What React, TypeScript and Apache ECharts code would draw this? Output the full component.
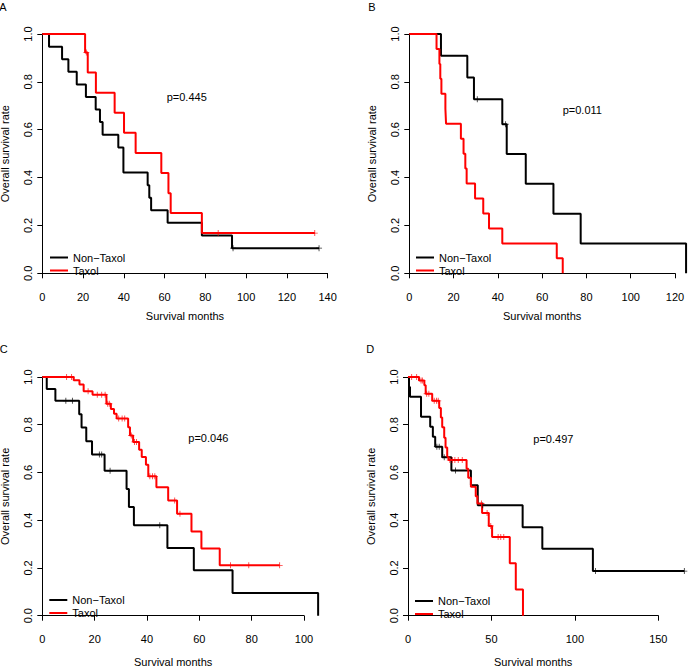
import React, { useEffect, useRef } from "react";
import * as echarts from "echarts";

const NON = "Non\u2212Taxol";
const TAX = "Taxol";

// ---------- Panel A ----------
const aNonTimes = [3.3, 9.7, 12.8, 16.9, 21.4, 26.2, 28.3, 29.6, 37.3, 39.8, 51.7, 52.5, 53.4, 61.5, 78.3, 93.1];
const aNonSurv = [0.947, 0.895, 0.842, 0.789, 0.737, 0.684, 0.632, 0.579, 0.526, 0.421, 0.368, 0.316, 0.263, 0.211, 0.158, 0.105];
const aNonCensor = [93.6, 135.8];
const aTaxTimes = [21.0, 22.3, 26.3, 35.5, 40.1, 45.8, 58.4, 61.9, 63.0, 78.3];
const aTaxSurv = [0.923, 0.839, 0.755, 0.671, 0.587, 0.503, 0.419, 0.335, 0.252, 0.168];
const aTaxCensor = [21.6, 86.3, 133.7];

// ---------- Panel B ----------
const bNonTimes = [14.3, 26.2, 29.2, 42.0, 44.0, 52.6, 65.1, 77.4, 125.0];
const bNonSurv = [0.909, 0.818, 0.727, 0.623, 0.499, 0.374, 0.249, 0.125, 0.0];
const bNonCensor = [30.7, 43.5];
const bTaxTimes = [12.3, 13.6, 14.0, 14.5, 16.3, 16.6, 23.3, 24.5, 25.3, 25.9, 29.7, 33.4, 36.0, 42.0, 66.6, 69.3];
const bTaxSurv = [0.9375, 0.875, 0.8125, 0.75, 0.6875, 0.625, 0.5625, 0.5, 0.4375, 0.375, 0.3125, 0.25, 0.1875, 0.125, 0.0625, 0.0];
const bTaxCensor: number[] = [];

// ---------- Panel C ----------
const cNonTimes = [1.7, 5.0, 14.1, 15.0, 16.8, 19.0, 23.8, 32.2, 33.1, 35.0, 47.8, 57.9, 72.7, 105.4];
const cNonSurv = [0.95, 0.9, 0.844, 0.788, 0.731, 0.675, 0.607, 0.531, 0.455, 0.379, 0.284, 0.19, 0.095, 0.0];
const cNonCensor = [9.0, 11.5, 21.8, 22.7, 25.9, 44.9];
const cTaxTimes = [12.0, 14.2, 15.8, 19.2, 24.5, 26.2, 27.4, 28.4, 32.8, 33.5, 34.7, 37.0, 38.0, 39.6, 40.5, 43.6, 48.1, 51.5, 57.0, 60.8, 67.8];
const cTaxSurv = [0.986, 0.969, 0.94, 0.926, 0.888, 0.866, 0.846, 0.826, 0.79, 0.755, 0.728, 0.695, 0.665, 0.632, 0.584, 0.538, 0.483, 0.427, 0.353, 0.282, 0.211];
const cTaxCensor = [9.3, 11.2, 17.5, 21.0, 22.7, 24.0, 25.0, 25.6, 29.2, 30.5, 31.5, 34.0, 35.2, 36.0, 41.1, 42.1, 43.0, 50.6, 52.6, 71.9, 78.9, 90.7];

// ---------- Panel D ----------
const dNonTimes = [0.6, 1.2, 7.8, 13.3, 14.9, 16.3, 20.5, 26.0, 37.7, 41.8, 68.7, 80.5, 110.8];
const dNonSurv = [0.958, 0.917, 0.833, 0.792, 0.75, 0.708, 0.664, 0.608, 0.547, 0.463, 0.371, 0.28, 0.187];
const dNonCensor = [17.3, 18.7, 21.7, 28.5, 44.8, 112.4, 165.6];
const dTaxTimes = [6.6, 9.8, 10.6, 14.5, 18.7, 19.7, 20.5, 21.7, 22.5, 23.5, 24.3, 35.1, 36.1, 37.7, 40.6, 41.6, 44.4, 48.4, 50.4, 61.0, 64.6, 68.9];
const dTaxSurv = [0.985, 0.965, 0.93, 0.9, 0.87, 0.83, 0.79, 0.745, 0.705, 0.665, 0.652, 0.616, 0.578, 0.54, 0.5, 0.47, 0.43, 0.376, 0.33, 0.22, 0.11, 0.0];
const dTaxCensor = [2.2, 5.2, 7.8, 8.6, 11.2, 12.5, 15.7, 17.1, 18.1, 25.1, 26.5, 28.1, 30.1, 32.5, 44.0, 47.4, 49.6, 54.0, 55.6, 57.4];

// axis ticks and annotations
const xTickMax = [140, 120, 100, 150];
const xTickStep = [20, 20, 20, 50];
const yTickStep = 0.2;
const panelLetters = ["A", "B", "C", "D"];
const pValues = ["p=0.445", "p=0.011", "p=0.046", "p=0.497"];
const xTitle = "Survival months";
const yTitle = "Overall survival rate";

// ---------- layout (pixels) ----------
// width = span from x=0 to the last x tick
const GRIDS = [
  { left: 42.3, top: 34, width: 285.3, height: 239.3 },
  { left: 409.3, top: 34, width: 265.7, height: 239.3 },
  { left: 42.3, top: 377, width: 261.7, height: 238.7 },
  { left: 408, top: 377, width: 250.3, height: 238.7 },
];
const LEGENDS = [
  { left: 50, top: 252 },
  { left: 416, top: 252 },
  { left: 49.3, top: 594.5 },
  { left: 415, top: 595.5 },
];
const LETTER_POS = [
  [3, 6.7],
  [372, 6.7],
  [3.8, 349.3],
  [370.3, 349.3],
];
const P_POS = [
  [166.7, 96.7],
  [562.7, 110],
  [188.3, 438.3],
  [533.3, 439.3],
];
const X_NAME_GAP = [27, 27, 31, 31];

const FONT = "'Liberation Sans', Arial, Helvetica, sans-serif";
const BLACK = "#000000";
const RED = "#ff0000";
const PLUS = "path://M4.3,0h1.4v4.3h4.3v1.4h-4.3v4.3h-1.4v-4.3h-4.3v-1.4h4.3z";

function levelAt(times: number[], surv: number[], t: number) {
  let s = 1;
  for (let i = 0; i < times.length; i++) if (times[i] <= t) s = surv[i];
  return s;
}

function curve(times: number[], surv: number[], censor: number[]) {
  const pts: number[][] = [[0, 1]];
  times.forEach((t, i) => pts.push([t, surv[i]]));
  const lastT = times[times.length - 1];
  const end = Math.max(lastT, ...censor);
  if (end > lastT) pts.push([end, surv[surv.length - 1]]);
  return pts;
}

function marks(times: number[], surv: number[], censor: number[]) {
  return censor.map((c) => [c, levelAt(times, surv, c)]);
}

const PANELS = [
  { non: [aNonTimes, aNonSurv, aNonCensor], tax: [aTaxTimes, aTaxSurv, aTaxCensor] },
  { non: [bNonTimes, bNonSurv, bNonCensor], tax: [bTaxTimes, bTaxSurv, bTaxCensor] },
  { non: [cNonTimes, cNonSurv, cNonCensor], tax: [cTaxTimes, cTaxSurv, cTaxCensor] },
  { non: [dNonTimes, dNonSurv, dNonCensor], tax: [dTaxTimes, dTaxSurv, dTaxCensor] },
];

function panelMax(p: any, i: number) {
  const all: number[] = [];
  [p.non, p.tax].forEach((g: number[][]) => {
    all.push(...g[0], ...g[2]);
  });
  return Math.max(xTickMax[i], ...all);
}

function buildOption() {
  const textStyle = { fontFamily: FONT, fontSize: 11, color: BLACK };
  const n = GRIDS.length;
  const dataMax = PANELS.map((p, i) => panelMax(p, i));
  // data grids (extend to the last observation) + axis grids (extend to the last tick)
  const grid: any[] = [];
  GRIDS.forEach((g, i) => {
    const pxPerUnit = g.width / xTickMax[i];
    grid.push({ ...g, width: pxPerUnit * dataMax[i], containLabel: false, outerBoundsMode: "none" });
  });
  GRIDS.forEach((g) => grid.push({ ...g, containLabel: false, outerBoundsMode: "none" }));

  const xAxis: any[] = [];
  const yAxis: any[] = [];
  GRIDS.forEach((_, i) => {
    xAxis.push({ type: "value", gridIndex: i, min: 0, max: dataMax[i], show: false });
    yAxis.push({
      type: "value",
      gridIndex: i,
      min: 0,
      max: 1,
      interval: yTickStep,
      name: yTitle,
      nameLocation: "middle",
      nameGap: 32,
      nameTextStyle: textStyle,
      axisLine: { show: true, lineStyle: { color: BLACK, width: 1 } },
      axisTick: { show: true, length: 5, lineStyle: { color: BLACK, width: 1 } },
      axisLabel: { ...textStyle, margin: 9, rotate: 90, formatter: (v: number) => v.toFixed(1) },
      splitLine: { show: false },
    });
  });
  GRIDS.forEach((_, i) => {
    xAxis.push({
      type: "value",
      gridIndex: n + i,
      min: 0,
      max: xTickMax[i],
      interval: xTickStep[i],
      offset: 10,
      name: xTitle,
      nameLocation: "middle",
      nameGap: X_NAME_GAP[i],
      nameTextStyle: textStyle,
      axisLine: { show: true, lineStyle: { color: BLACK, width: 1 } },
      axisTick: { show: true, length: 5, lineStyle: { color: BLACK, width: 1 } },
      axisLabel: { ...textStyle, margin: 8 },
      splitLine: { show: false },
    });
    yAxis.push({ type: "value", gridIndex: n + i, min: 0, max: 1, show: false });
  });

  const series: any[] = [];
  PANELS.forEach((p, i) => {
    const groups = [
      { name: NON, color: BLACK, d: p.non, z: 2 },
      { name: TAX, color: RED, d: p.tax, z: 3 },
    ];
    groups.forEach((g) => {
      const [t, s, c] = g.d as number[][];
      series.push({
        type: "line",
        name: g.name,
        xAxisIndex: i,
        yAxisIndex: i,
        data: curve(t, s, c),
        step: "end",
        symbol: "none",
        clip: false,
        color: g.color,
        lineStyle: { color: g.color, width: 2 },
        itemStyle: { color: g.color },
        z: g.z,
      });
      if (c.length) {
        series.push({
          type: "scatter",
          name: g.name + " censored",
          xAxisIndex: i,
          yAxisIndex: i,
          data: marks(t, s, c),
          symbol: PLUS,
          symbolSize: 6,
          clip: false,
          itemStyle: { color: g.color },
          z: g.z + 2,
        });
      }
    });
  });
  const legend = LEGENDS.map((l) => ({
    data: [NON, TAX],
    orient: "vertical",
    left: l.left,
    top: l.top,
    padding: 0,
    itemWidth: 18,
    itemHeight: 2,
    itemGap: 2,
    icon: "rect",
    selectedMode: false,
    textStyle: { fontFamily: FONT, fontSize: 11, color: BLACK },
  }));
  const graphic: any[] = [];
  panelLetters.forEach((L, i) => {
    graphic.push({
      type: "text",
      x: LETTER_POS[i][0],
      y: LETTER_POS[i][1],
      style: {
        text: L,
        fill: BLACK,
        fontFamily: FONT,
        fontSize: 11,
        align: "center",
        verticalAlign: "middle",
        textAlign: "center",
        textVerticalAlign: "middle",
      },
    });
  });
  pValues.forEach((pv, i) => {
    graphic.push({
      type: "text",
      x: P_POS[i][0],
      y: P_POS[i][1],
      style: {
        text: pv,
        fill: BLACK,
        fontFamily: FONT,
        fontSize: 11,
        align: "left",
        verticalAlign: "middle",
        textAlign: "left",
        textVerticalAlign: "middle",
      },
    });
  });
  return {
    animation: false,
    backgroundColor: "#ffffff",
    textStyle: { fontFamily: FONT },
    grid,
    xAxis,
    yAxis,
    legend,
    series,
    graphic,
  };
}

export default function App() {
  const ref = useRef<HTMLDivElement>(null);
  useEffect(() => {
    if (!ref.current) return;
    const chart = echarts.init(ref.current, undefined, { renderer: "svg" });
    chart.setOption(buildOption() as any);
    return () => chart.dispose();
  }, []);
  return (
    <div
      ref={ref}
      style={{ position: "absolute", left: 0, top: 0, width: 688, height: 668, background: "#fff" }}
    />
  );
}
